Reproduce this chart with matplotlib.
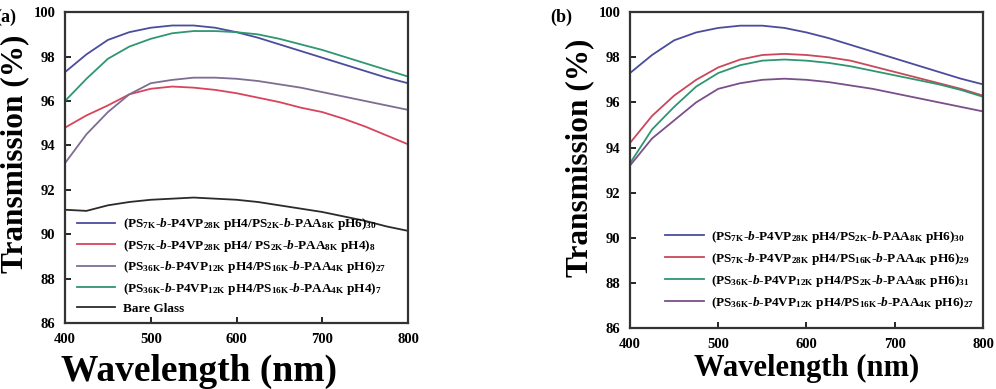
import matplotlib
matplotlib.use('Agg')
import matplotlib.pyplot as plt

plt.rcParams['font.family'] = ['Liberation Serif', 'DejaVu Serif']
plt.rcParams['font.weight'] = 'bold'
plt.rcParams['mathtext.fontset'] = 'custom'
plt.rcParams['mathtext.rm'] = 'Liberation Serif:bold'
plt.rcParams['mathtext.it'] = 'Liberation Serif:bold:italic'
plt.rcParams['mathtext.bf'] = 'Liberation Serif:bold'

wavelength = [400, 425, 450, 475, 500, 525, 550, 575, 600, 625, 650, 675, 700, 725, 750, 775, 800]

# panel (a)
a_blue_30 = [97.3, 98.1, 98.75, 99.1, 99.3, 99.4, 99.4, 99.3, 99.1, 98.85, 98.55, 98.25, 97.95, 97.65, 97.35, 97.05, 96.8]
a_red_8 = [94.8, 95.35, 95.8, 96.3, 96.55, 96.65, 96.6, 96.5, 96.35, 96.15, 95.95, 95.7, 95.5, 95.2, 94.85, 94.45, 94.05]
a_purple_27 = [93.2, 94.5, 95.5, 96.3, 96.8, 96.95, 97.05, 97.05, 97.0, 96.9, 96.75, 96.6, 96.4, 96.2, 96.0, 95.8, 95.6]
a_green_7 = [96.0, 97.0, 97.9, 98.45, 98.8, 99.05, 99.15, 99.15, 99.1, 99.0, 98.8, 98.55, 98.3, 98.0, 97.7, 97.4, 97.1]
a_glass = [91.1, 91.05, 91.3, 91.45, 91.55, 91.6, 91.65, 91.6, 91.55, 91.45, 91.3, 91.15, 91.0, 90.8, 90.6, 90.35, 90.15]

# panel (b)
b_blue_30 = a_blue_30
b_red_29 = [94.2, 95.4, 96.3, 97.0, 97.55, 97.9, 98.1, 98.15, 98.1, 98.0, 97.85, 97.6, 97.35, 97.1, 96.85, 96.6, 96.3]
b_green_31 = [93.3, 94.8, 95.8, 96.7, 97.3, 97.65, 97.85, 97.9, 97.85, 97.75, 97.6, 97.4, 97.2, 97.0, 96.8, 96.55, 96.25]
b_purple_27 = [93.2, 94.4, 95.2, 96.0, 96.6, 96.85, 97.0, 97.05, 97.0, 96.9, 96.75, 96.6, 96.4, 96.2, 96.0, 95.8, 95.6]


def s(t):
    return r'$_{\mathrm{%s}}$' % t


B = r'$\mathit{b}$'
labels_a = [
    '(PS' + s('7K') + '-' + B + '-P4VP' + s('28K') + ' pH4/PS' + s('2K') + '-' + B + '-PAA' + s('8K') + ' pH6)' + s('30'),
    '(PS' + s('7K') + '-' + B + '-P4VP' + s('28K') + ' pH4/ PS' + s('2K') + '-' + B + '-PAA' + s('8K') + ' pH4)' + s('8'),
    '(PS' + s('36K') + '-' + B + '-P4VP' + s('12K') + ' pH4/PS' + s('16K') + '-' + B + '-PAA' + s('4K') + ' pH6)' + s('27'),
    '(PS' + s('36K') + '-' + B + '-P4VP' + s('12K') + ' pH4/PS' + s('16K') + '-' + B + '-PAA' + s('4K') + ' pH4)' + s('7'),
    'Bare Glass',
]
labels_b = [
    '(PS' + s('7K') + '-' + B + '-P4VP' + s('28K') + ' pH4/PS' + s('2K') + '-' + B + '-PAA' + s('8K') + ' pH6)' + s('30'),
    '(PS' + s('7K') + '-' + B + '-P4VP' + s('28K') + ' pH4/PS' + s('16K') + '-' + B + '-PAA' + s('4K') + ' pH6)' + s('29'),
    '(PS' + s('36K') + '-' + B + '-P4VP' + s('12K') + ' pH4/PS' + s('2K') + '-' + B + '-PAA' + s('8K') + ' pH6)' + s('31'),
    '(PS' + s('36K') + '-' + B + '-P4VP' + s('12K') + ' pH4/PS' + s('16K') + '-' + B + '-PAA' + s('4K') + ' pH6)' + s('27'),
]

colors_a = ['#4b4c9e', '#d8445c', '#7d6d92', '#2f9670', '#2b2b2b']
colors_b = ['#4b4c9e', '#c9485a', '#2f9670', '#7a4f8a']

fig = plt.figure(figsize=(9.96, 3.89), dpi=100)
ax1 = fig.add_axes([0.0653, 0.1697, 0.3443, 0.799])
ax2 = fig.add_axes([0.6325, 0.1568, 0.3544, 0.812])

for y, c, lab in zip([a_blue_30, a_red_8, a_purple_27, a_green_7, a_glass], colors_a, labels_a):
    ax1.plot(wavelength, y, color=c, lw=1.3, label=lab)
for y, c, lab in zip([b_blue_30, b_red_29, b_green_31, b_purple_27], colors_b, labels_b):
    ax2.plot(wavelength, y, color=c, lw=1.3, label=lab)

for ax in (ax1, ax2):
    ax.set_xlim(400, 800)
    ax.set_ylim(86, 100)
    ax.set_xticks([400, 500, 600, 700, 800])
    ax.set_yticks([86, 88, 90, 92, 94, 96, 98, 100])
    ax.tick_params(direction='in', length=4, width=1.2, labelsize=10.5, pad=7, top=False, right=False)
    for lab in ax.get_xticklabels() + ax.get_yticklabels():
        lab.set_fontweight('bold')
    for sp in ax.spines.values():
        sp.set_linewidth(1.6)
        sp.set_color('#333333')
    ax.set_ylabel('Transmission (%)', fontsize=22.5, fontweight='bold')

ax1.yaxis.set_label_coords(-0.105, 0.545)
ax2.yaxis.set_label_coords(-0.1, 0.54)

ax1.set_xlabel('Wavelength (nm)', fontsize=27, fontweight='bold')
ax1.xaxis.set_label_coords(0.39, -0.1)
ax2.set_xlabel('Wavelength (nm)', fontsize=22, fontweight='bold', labelpad=2)

ax1.legend(loc='upper left', bbox_to_anchor=(0.02, 0.36), frameon=False, fontsize=9.5,
           handlelength=2.9, handletextpad=0.6, labelspacing=0.42, borderaxespad=0)
ax2.legend(loc='upper left', bbox_to_anchor=(0.085, 0.33), frameon=False, fontsize=9.5,
           handlelength=2.9, handletextpad=0.6, labelspacing=0.45, borderaxespad=0)

fig.text(0.016, 0.955, '(a)', fontsize=13, fontweight='bold', ha='right', va='center')
fig.text(0.564, 0.955, '(b)', fontsize=13, fontweight='bold', ha='center', va='center')

fig.savefig('out.png', dpi=100)
